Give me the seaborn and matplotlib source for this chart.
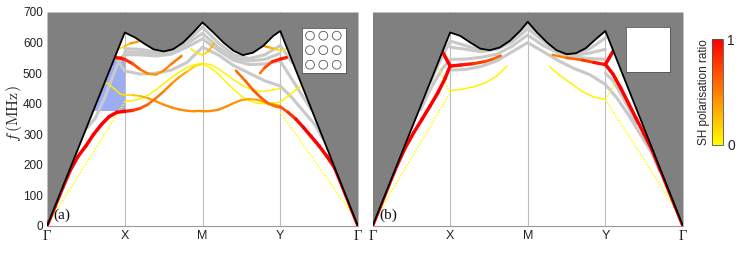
import numpy as np
import matplotlib
matplotlib.use('Agg')
import matplotlib.pyplot as plt
import seaborn as sns
from matplotlib.collections import LineCollection
from matplotlib.patches import Circle, Polygon
from matplotlib.cm import ScalarMappable
from matplotlib.colors import Normalize

# ---------------- data ----------------
k_ticks = [0, 1, 2, 3, 4]
k_labels = ['Γ', 'X', 'M', 'Y', 'Γ']
f_ticks = [0, 100, 200, 300, 400, 500, 600, 700]
panel_tags = ['(a)', '(b)']
cbar_ticks = [0, 1]

# upper boundary (black line, grey region above)
a_edge_k = [0, 1.0, 1.13, 1.26, 1.37, 1.5, 1.62, 1.75, 1.88, 2.0, 2.14, 2.27, 2.40, 2.52, 2.65, 2.78, 2.91, 3.0, 4.0]
a_edge_f = [0, 633, 617, 595, 578, 571, 578, 600, 633, 666, 633, 600, 573, 559, 567, 589, 622, 638, 0]
b_edge_k = [0, 1.0, 1.13, 1.26, 1.39, 1.51, 1.64, 1.77, 1.9, 2.0, 2.12, 2.25, 2.37, 2.5, 2.62, 2.75, 2.88, 3.0, 4.0]
b_edge_f = [0, 633, 622, 600, 580, 575, 584, 606, 638, 668, 633, 600, 575, 562, 565, 582, 612, 638, 0]

# blue zone in panel (a)
a_blue_k = [0.592, 1.0, 1.0, 0.861]
a_blue_f = [375, 375, 545, 545]

# ---- panel (a) coloured bands: k, f, SH ratio ----
a_r1_k = [0, 0.1, 0.2, 0.3, 0.4, 0.5, 0.6, 0.7, 0.8, 0.9, 1.0]
a_r1_f = [0, 62, 124, 183, 228, 262, 300, 332, 358, 372, 375]
a_r1_c = [1, 1, 1, 1, 1, 1, 1, 1, 1, 1, 1]

a_top_k = [0.93, 1.0, 1.07, 1.17]
a_top_f = [580, 588, 597, 603]
a_top_c = [0.1, 0.15, 0.35, 0.45]

a_A_k = [0.87, 0.95, 1.0, 1.1, 1.2, 1.3, 1.4, 1.5, 1.6, 1.73]
a_A_f = [551, 549, 545, 531, 512, 498, 495, 508, 530, 556]
a_A_c = [0.95, 0.95, 0.9, 0.75, 0.6, 0.45, 0.4, 0.45, 0.5, 0.55]

a_B_k = [1.0, 1.1, 1.2, 1.3, 1.4, 1.5, 1.6, 1.7, 1.8, 1.9, 2.0]
a_B_f = [375, 378, 385, 398, 418, 440, 465, 487, 505, 522, 530]
a_B_c = [0.95, 0.85, 0.7, 0.6, 0.55, 0.5, 0.45, 0.4, 0.3, 0.15, 0.1]

a_C_k = [1.0, 1.1, 1.2, 1.3, 1.4, 1.5, 1.6, 1.7, 1.8, 1.9, 2.0]
a_C_f = [408, 410, 416, 428, 445, 465, 485, 503, 518, 528, 532]
a_C_c = [0.05, 0.05, 0.05, 0.05, 0.05, 0.05, 0.05, 0.05, 0.05, 0.05, 0.05]

a_D_k = [0.745, 0.8, 0.87, 0.94, 1.0, 1.1, 1.2, 1.3, 1.4, 1.5, 1.6, 1.7, 1.8, 1.9, 2.0,
         2.1, 2.2, 2.3, 2.4, 2.5, 2.6, 2.7, 2.8, 2.9, 3.0]
a_D_f = [470, 463, 448, 432, 428, 428, 425, 418, 408, 397, 388, 381, 377, 375, 375,
         376, 380, 390, 402, 412, 415, 413, 405, 398, 392]
a_D_c = [0.08, 0.08, 0.08, 0.1, 0.12, 0.18, 0.28, 0.35, 0.4, 0.45, 0.45, 0.45, 0.45, 0.45, 0.45,
         0.45, 0.45, 0.45, 0.42, 0.38, 0.35, 0.35, 0.38, 0.42, 0.45]

a_H_k = [1.85, 1.93, 2.0, 2.07, 2.15]
a_H_f = [580, 565, 560, 570, 598]
a_H_c = [0.08, 0.08, 0.1, 0.2, 0.35]

a_E_k = [2.0, 2.1, 2.2, 2.3, 2.4, 2.5, 2.6, 2.7, 2.8, 2.9, 3.0]
a_E_f = [532, 528, 515, 497, 478, 462, 450, 442, 440, 445, 450]
a_E_c = [0.05, 0.05, 0.05, 0.05, 0.05, 0.05, 0.05, 0.05, 0.05, 0.05, 0.05]

a_F_k = [2.0, 2.1, 2.2, 2.3, 2.4, 2.5, 2.6, 2.7, 2.8, 2.9, 3.0, 3.1, 3.2, 3.27]
a_F_f = [530, 518, 498, 472, 447, 425, 410, 402, 400, 402, 405, 425, 445, 458]
a_F_c = [0.05, 0.05, 0.05, 0.05, 0.05, 0.05, 0.05, 0.05, 0.05, 0.05, 0.05, 0.05, 0.05, 0.05]

a_B2_k = [2.43, 2.55, 2.65, 2.75, 2.85, 2.95, 3.0]
a_B2_f = [508, 475, 445, 420, 400, 390, 388]
a_B2_c = [0.55, 0.6, 0.65, 0.65, 0.6, 0.55, 0.55]

a_I_k = [2.8, 2.86, 2.92, 2.97, 3.03, 3.08]
a_I_f = [588, 584, 580, 576, 574, 580]
a_I_c = [0.45, 0.4, 0.25, 0.12, 0.08, 0.08]

a_J_k = [2.74, 2.8, 2.9, 3.0, 3.08]
a_J_f = [500, 518, 538, 546, 551]
a_J_c = [0.5, 0.6, 0.8, 0.9, 0.9]

a_r2_k = [3.0, 3.1, 3.2, 3.3, 3.4, 3.5, 3.6, 3.7, 3.8, 3.9, 4.0]
a_r2_f = [390, 372, 350, 322, 292, 262, 228, 190, 128, 64, 0]
a_r2_c = [0.6, 0.75, 0.9, 1, 1, 1, 1, 1, 1, 1, 1]

# panel (a) thin dotted yellow bands
a_d1_k = [0.05, 1.0]
a_d1_f = [22, 405]
a_d2_k = [3.0, 3.95]
a_d2_f = [372, 30]

# panel (a) grey bands
a_g0_k = [0.52, 0.62, 0.75, 0.9, 1.0]
a_g0_f = [322, 352, 425, 525, 565]
a_g1_k = [0.88, 1.0, 1.2, 1.4, 1.6, 1.8, 1.9, 2.0]
a_g1_f = [553, 507, 497, 500, 510, 535, 560, 585]
a_g2_k = [1.0, 1.2, 1.4, 1.6, 1.8, 2.0]
a_g2_f = [560, 560, 556, 562, 585, 612]
a_g3_k = [1.0, 1.2, 1.4, 1.6, 1.8, 2.0]
a_g3_f = [570, 568, 563, 568, 596, 630]
a_g4_k = [1.0, 1.2, 1.4, 1.6, 1.8, 2.0]
a_g4_f = [580, 578, 570, 574, 605, 650]
a_h1_k = [2.0, 2.2, 2.4, 2.6, 2.8, 3.0]
a_h1_f = [650, 600, 560, 548, 560, 590]
a_h2_k = [2.0, 2.2, 2.4, 2.6, 2.8, 3.0]
a_h2_f = [630, 585, 550, 540, 545, 565]
a_h3_k = [2.0, 2.2, 2.4, 2.6, 2.8, 3.0]
a_h3_f = [612, 575, 542, 528, 530, 540]
a_h4_k = [2.0, 2.2, 2.4, 2.6, 2.8, 3.0]
a_h4_f = [585, 560, 525, 500, 475, 458]
a_y1_k = [3.0, 3.15, 3.3, 3.45, 3.55]
a_y1_f = [458, 420, 375, 330, 285]
a_y2_k = [3.0, 3.1, 3.2, 3.3, 3.4]
a_y2_f = [540, 500, 460, 420, 380]
a_y3_k = [3.0, 3.07, 3.15]
a_y3_f = [590, 565, 535]

# ---- panel (b) coloured bands ----
b_r1_k = [0, 0.1, 0.2, 0.31, 0.42, 0.53, 0.64, 0.74, 0.84, 0.93, 1.0]
b_r1_f = [0, 63, 127, 195, 255, 305, 350, 392, 435, 480, 523]
b_r1_c = [1, 1, 1, 1, 1, 1, 1, 1, 1, 1, 1]
b_r1u_k = [0.91, 1.0]
b_r1u_f = [566, 523]
b_r1u_c = [1, 1]
b_rx_k = [1.0, 1.15, 1.3, 1.45, 1.55, 1.65]
b_rx_f = [523, 527, 531, 538, 546, 557]
b_rx_c = [1, 0.95, 0.85, 0.75, 0.65, 0.6]
b_yx_k = [1.0, 1.15, 1.3, 1.45, 1.6, 1.73]
b_yx_f = [443, 447, 455, 468, 490, 523]
b_yx_c = [0.05, 0.05, 0.05, 0.05, 0.05, 0.05]
b_om_k = [2.32, 2.5, 2.7, 2.85, 3.0]
b_om_f = [560, 550, 543, 535, 528]
b_om_c = [0.45, 0.55, 0.7, 0.85, 1.0]
b_ym_k = [2.28, 2.4, 2.55, 2.7, 2.85, 3.0]
b_ym_f = [522, 495, 468, 440, 422, 414]
b_ym_c = [0.05, 0.05, 0.05, 0.05, 0.05, 0.05]
b_r2_k = [3.0, 3.1, 3.2, 3.3, 3.4, 3.5, 3.6, 3.7, 3.8, 3.9, 4.0]
b_r2_f = [529, 496, 450, 400, 350, 300, 250, 188, 126, 63, 0]
b_r2_c = [1, 1, 1, 1, 1, 1, 1, 1, 1, 1, 1]
b_r2u_k = [3.0, 3.05, 3.1]
b_r2u_f = [529, 550, 572]
b_r2u_c = [1, 1, 1]

# panel (b) dotted yellow
b_d1_k = [0.04, 1.0]
b_d1_f = [25, 436]
b_d2_k = [0.85, 1.0]
b_d2_f = [515, 436]
b_d3_k = [3.0, 3.92]
b_d3_f = [414, 50]
b_d4_k = [3.0, 3.2]
b_d4_f = [414, 500]

# panel (b) grey bands
b_g0_k = [0.75, 0.85, 0.95, 1.0]
b_g0_f = [470, 530, 580, 605]
b_g5_k = [0.62, 0.75, 0.9, 1.0]
b_g5_f = [380, 450, 515, 545]
b_g1_k = [1.0, 1.2, 1.4, 1.6, 1.8, 2.0]
b_g1_f = [510, 512, 522, 540, 570, 600]
b_g2_k = [1.0, 1.2, 1.4, 1.6, 1.8, 2.0]
b_g2_f = [545, 546, 552, 562, 588, 625]
b_g3_k = [1.0, 1.2, 1.4, 1.6, 1.8, 2.0]
b_g3_f = [585, 578, 570, 578, 602, 645]
b_g4_k = [1.0, 1.2, 1.4, 1.6, 1.8, 2.0]
b_g4_f = [605, 590, 575, 578, 612, 660]
b_c1_k = [2.0, 2.2, 2.4, 2.6, 2.8, 3.0]
b_c1_f = [600, 570, 540, 515, 495, 463]
b_c2_k = [2.0, 2.2, 2.4, 2.6, 2.8, 3.0]
b_c2_f = [625, 590, 565, 552, 548, 545]
b_c3_k = [2.0, 2.2, 2.4, 2.6, 2.8, 3.0]
b_c3_f = [645, 605, 568, 558, 566, 578]
b_c4_k = [2.0, 2.2, 2.4, 2.6, 2.8, 3.0]
b_c4_f = [660, 612, 569, 561, 580, 615]
b_e1_k = [3.0, 3.15, 3.3, 3.45, 3.6, 3.7]
b_e1_f = [463, 418, 362, 300, 238, 180]
b_e2_k = [3.0, 3.1, 3.2, 3.3, 3.4]
b_e2_f = [500, 475, 432, 385, 335]

# ---------------- styling ----------------
sns.set_theme(style='white')
plt.rcParams['font.family'] = ['Liberation Sans', 'DejaVu Sans']
plt.rcParams['mathtext.fontset'] = 'cm'

cmap = plt.get_cmap('autumn_r')
GREY_BAND = '#c9c9c9'
GREY_FILL = '#808080'
BLUE = '#9cadf4'

fig = plt.figure(figsize=(7.47, 2.57), dpi=100)
W, H = 747.0, 257.0
ax_a = fig.add_axes([47 / W, 1 - 226 / H, 311 / W, 214 / H])
ax_b = fig.add_axes([372.5 / W, 1 - 226 / H, 310.5 / W, 214 / H])


def coloured(ax, k, f, c):
    pts = np.column_stack([k, f]).astype(float)
    segs = np.stack([pts[:-1], pts[1:]], axis=1)
    c = np.asarray(c, dtype=float)
    cm = (c[:-1] + c[1:]) / 2
    lc = LineCollection(segs, colors=cmap(cm), linewidths=1.0 + 1.5 * cm,
                        capstyle='round', joinstyle='round', zorder=4)
    ax.add_collection(lc)


def grey(ax, k, f):
    sns.lineplot(x=k, y=f, ax=ax, color=GREY_BAND, lw=2.2, sort=False,
                 estimator=None, legend=False, zorder=3,
                 solid_capstyle='round')


def dotted(ax, k, f):
    ax.plot(k, f, color=cmap(0.0), lw=1.1, ls=(0, (1, 1)), zorder=4)


def base(ax, edge_k, edge_f):
    for kx in k_ticks[1:-1]:
        ax.axvline(kx, color='#bdbdbd', lw=0.8, zorder=0)
    ax.fill_between(edge_k, edge_f, 700, color=GREY_FILL, lw=0, zorder=5)
    sns.lineplot(x=edge_k, y=edge_f, ax=ax, color='black', lw=1.3, sort=False,
                 estimator=None, legend=False, zorder=6)
    ax.set_xlim(0, 4)
    ax.set_ylim(0, 700)
    ax.set_xticks(k_ticks)
    ax.set_xticklabels(k_labels)
    for lab in ax.get_xticklabels():
        if lab.get_text() == 'Γ':
            lab.set_fontfamily('Liberation Serif')
            lab.set_fontsize(10.5)
        else:
            lab.set_fontsize(9)
        lab.set_color('#222222')
    ax.tick_params(axis='both', length=0, pad=3)
    for s in ['top', 'right', 'left']:
        ax.spines[s].set_visible(False)
    ax.spines['bottom'].set_color('#9a9a9a')
    ax.spines['bottom'].set_linewidth(0.8)
    ax.set_xlabel('')


# ---- panel (a) ----
ax = ax_a
base(ax, a_edge_k, a_edge_f)
ax.add_patch(Polygon(np.column_stack([a_blue_k, a_blue_f]), closed=True,
                     facecolor=BLUE, edgecolor='none', zorder=1))
for kk, ff in [(a_g0_k, a_g0_f), (a_g1_k, a_g1_f), (a_g2_k, a_g2_f), (a_g3_k, a_g3_f),
               (a_g4_k, a_g4_f), (a_h1_k, a_h1_f), (a_h2_k, a_h2_f), (a_h3_k, a_h3_f),
               (a_h4_k, a_h4_f), (a_y1_k, a_y1_f), (a_y2_k, a_y2_f), (a_y3_k, a_y3_f)]:
    grey(ax, kk, ff)
dotted(ax, a_d1_k, a_d1_f)
dotted(ax, a_d2_k, a_d2_f)
for kk, ff, cc in [(a_C_k, a_C_f, a_C_c), (a_E_k, a_E_f, a_E_c), (a_F_k, a_F_f, a_F_c),
                   (a_top_k, a_top_f, a_top_c), (a_H_k, a_H_f, a_H_c), (a_I_k, a_I_f, a_I_c),
                   (a_D_k, a_D_f, a_D_c), (a_A_k, a_A_f, a_A_c), (a_B_k, a_B_f, a_B_c),
                   (a_B2_k, a_B2_f, a_B2_c), (a_J_k, a_J_f, a_J_c),
                   (a_r1_k, a_r1_f, a_r1_c), (a_r2_k, a_r2_f, a_r2_c)]:
    coloured(ax, kk, ff, cc)
ax.set_yticks(f_ticks)
ax.set_yticklabels([str(v) for v in f_ticks], fontsize=8.5, color='#222222')
ax.tick_params(axis='y', pad=3)
ax.set_ylabel('')
fig.text(14.0 / W, 1 - 114 / H, r'$f\,(\mathrm{MHz})$', rotation=90, fontsize=11.5,
         ha='center', va='center')
ax.text(0.022, 0.018, panel_tags[0], transform=ax.transAxes, ha='left', va='bottom',
        fontsize=11, family='Liberation Serif', color='#111111', zorder=7)

# ---- panel (b) ----
ax = ax_b
base(ax, b_edge_k, b_edge_f)
for kk, ff in [(b_g0_k, b_g0_f), (b_g5_k, b_g5_f), (b_g1_k, b_g1_f), (b_g2_k, b_g2_f),
               (b_g3_k, b_g3_f), (b_g4_k, b_g4_f), (b_c1_k, b_c1_f), (b_c2_k, b_c2_f),
               (b_c3_k, b_c3_f), (b_c4_k, b_c4_f), (b_e1_k, b_e1_f), (b_e2_k, b_e2_f)]:
    grey(ax, kk, ff)
dotted(ax, b_d1_k, b_d1_f)
dotted(ax, b_d2_k, b_d2_f)
dotted(ax, b_d3_k, b_d3_f)
dotted(ax, b_d4_k, b_d4_f)
for kk, ff, cc in [(b_yx_k, b_yx_f, b_yx_c), (b_ym_k, b_ym_f, b_ym_c),
                   (b_om_k, b_om_f, b_om_c), (b_rx_k, b_rx_f, b_rx_c),
                   (b_r1_k, b_r1_f, b_r1_c), (b_r1u_k, b_r1u_f, b_r1u_c),
                   (b_r2_k, b_r2_f, b_r2_c), (b_r2u_k, b_r2u_f, b_r2u_c)]:
    coloured(ax, kk, ff, cc)
ax.set_yticks([])
ax.set_ylabel('')
ax.text(0.022, 0.018, panel_tags[1], transform=ax.transAxes, ha='left', va='bottom',
        fontsize=11, family='Liberation Serif', color='#111111', zorder=7)

# ---- insets ----
ins_a = fig.add_axes([301.7 / W, 1 - 72.7 / H, 44 / W, 45 / H])
ins_a.set_xlim(0, 44)
ins_a.set_ylim(0, 45)
ins_a.set_facecolor('white')
ins_a.set_xticks([])
ins_a.set_yticks([])
for s in ins_a.spines.values():
    s.set_color('#555555')
    s.set_linewidth(0.6)
for cx in [8.3, 21.6, 35.0]:
    for cy in [8.0, 22.5, 37.0]:
        ins_a.add_patch(Circle((cx, cy), 4.4, facecolor='none', edgecolor='#555555', lw=0.6))

ins_b = fig.add_axes([625.7 / W, 1 - 72.3 / H, 44.3 / W, 45.6 / H])
ins_b.set_facecolor('white')
ins_b.set_xticks([])
ins_b.set_yticks([])
for s in ins_b.spines.values():
    s.set_color('#555555')
    s.set_linewidth(0.6)

# ---- colorbar ----
cax = fig.add_axes([712 / W, 1 - 145 / H, 11 / W, 105.7 / H])
sm = ScalarMappable(norm=Normalize(0, 1), cmap=cmap)
cb = fig.colorbar(sm, cax=cax, ticks=cbar_ticks)
cb.outline.set_linewidth(0.6)
cb.outline.set_edgecolor('#555555')
cax.tick_params(length=0, labelsize=10, pad=3)
cax.yaxis.set_label_position('left')
cax.set_ylabel('SH polarisation ratio', fontsize=8.5, labelpad=1.5)

fig.savefig('out.png', dpi=100)
